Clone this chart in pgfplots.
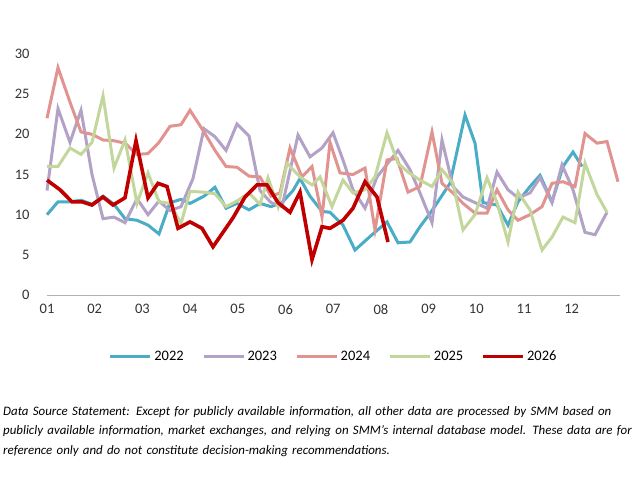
\documentclass[border=0pt]{standalone}
\usepackage{pgfplots}
\pgfplotsset{compat=1.18}
\usepackage{fontspec}
\setmainfont{Carlito}
\definecolor{cA}{HTML}{4BACC6}
\definecolor{cB}{HTML}{B3A2C7}
\definecolor{cC}{HTML}{E0938F}
\definecolor{cD}{HTML}{C3D69B}
\definecolor{cE}{HTML}{C00000}
\begin{document}
\begin{tikzpicture}
\path (-47pt,-181pt) rectangle (592pt,295pt);
\begin{axis}[at={(0,0)},anchor=south west,scale only axis,width=573pt,height=241pt,
 xmin=47,xmax=620,ymin=0,ymax=30,
 xtick={47,94.7,142.4,190.1,237.8,285.5,333.2,380.9,428.6,476.3,524,571.7},
 xticklabels={01,02,03,04,05,06,07,08,09,10,11,12},
 ytick=\empty,
 axis y line=none, axis x line*=bottom, x axis line style={gray!60,-},
 tick style={draw=none},
 xticklabel style={font=\fontsize{14.5}{16}\selectfont,text=black!80,yshift=-6pt},
 /pgf/number format/assume math mode=true,
 clip=false,
 legend style={draw=none,at={(0.5,-0.255)},anchor=center,font=\fontsize{14.5}{16}\selectfont,/tikz/every even column/.append style={column sep=16pt}},
 legend columns=5, legend image post style={line width=3.8pt},
 legend image code/.code={\draw[#1] (0pt,0pt) -- (40pt,0pt);},
]
\pgfplotsextra{\foreach \v in {0,5,...,30}{\node[anchor=east,font=\fontsize{14.5}{16}\selectfont,text=black!80] at (axis cs:47,\v) [xshift=-14pt] {\v};}}
\addplot[cA,line width=3pt] coordinates {(47,10)(58,11.6)(70,11.6)(81,11.8)(92,11.3)(103,12.3)(114,11.3)(125,9.5)(137,9.3)(148,8.7)(159,7.6)(170,11.5)(181,11.9)(190,11.4)(204,12.3)(215,13.4)(226,10.8)(237,11.4)(249,10.6)(260,11.4)(271,11)(282,11.5)(293,13)(300,14.5)(310,12.3)(322,10.4)(330,10.3)(343,8.7)(355,5.6)(372,7.5)(387,9.1)(398,6.5)(410,6.6)(420,8.5)(432,10.5)(450,13.9)(465,22.4)(475,18.9)(483,11.5)(497,11.2)(508,8.7)(518,11.6)(530,13.5)(540,14.9)(552,11.6)(563,16)(573,17.8)(582,16)};
\addlegendentry{2022}
\addplot[cB,line width=3pt] coordinates {(47,13)(58,23.2)(70,19)(81,23)(92,15)(103,9.5)(114,9.7)(125,9)(137,12)(148,10)(159,11.7)(170,10.5)(181,11)(193,14.5)(204,20.7)(215,19.7)(226,18)(237,21.3)(249,19.8)(260,13)(271,11.5)(282,11)(298,19.9)(310,17.2)(322,18.3)(333,20.2)(343,16.8)(353,13.1)(365,10.8)(377,14.7)(398,18)(410,15.6)(420,12.7)(432,9)(442,19.3)(453,13.5)(463,12.2)(475,11.5)(487,10.8)(497,15.3)(508,13.1)(518,12.1)(530,12.7)(540,14.6)(552,11.5)(562,16.2)(573,13.1)(585,7.8)(595,7.5)(607,10.3)};
\addlegendentry{2023}
\addplot[cC,line width=3pt] coordinates {(47,22)(58,28.3)(70,24)(81,20.3)(92,20)(103,19.3)(114,19.2)(125,18.9)(137,17.5)(148,17.6)(159,19)(170,21)(181,21.2)(190,23)(204,20.3)(215,18)(226,16)(237,15.9)(249,14.8)(260,14.7)(271,12.3)(280,12.7)(290,18.3)(302,14.7)(312,16)(322,9.7)(330,19)(340,15.2)(353,15)(365,15.8)(375,8.1)(387,16.8)(397,17)(408,12.8)(420,13.5)(432,20.3)(442,13.9)(453,12.7)(463,11.4)(475,10.2)(487,10.2)(497,13.1)(508,10.6)(518,9.3)(530,10)(542,11)(552,13.9)(563,14.1)(575,13.5)(585,20.1)(597,18.9)(607,19.1)(618,14.1)};
\addlegendentry{2024}
\addplot[cD,line width=3pt] coordinates {(47,16)(58,16)(70,18.3)(81,17.5)(92,19)(103,24.8)(114,15.8)(125,19.3)(137,11.4)(148,15.2)(159,11.6)(170,11.4)(181,8.9)(190,12.9)(204,12.8)(215,12.6)(226,11)(237,11.7)(249,12.7)(260,11.3)(268,14.6)(278,11)(287,16.4)(300,14.7)(312,13.7)(320,14.7)(332,11)(343,14.3)(353,12.7)(365,13.1)(375,14.7)(387,20.2)(398,16.4)(408,15.3)(420,14.3)(432,13.5)(442,15.6)(453,13.9)(463,8.1)(475,10)(487,14.6)(497,11.5)(508,6.6)(518,12.8)(530,10.6)(542,5.6)(552,7.2)(563,9.7)(575,9)(585,16.4)(597,12.5)(607,10.3)};
\addlegendentry{2025}
\addplot[cE,line width=3.6pt] coordinates {(47,14.3)(60,13.1)(72,11.6)(82,11.6)(92,11.2)(103,12.2)(113,11.2)(125,12.1)(136,19.2)(148,12.1)(158,13.9)(167,13.5)(178,8.3)(190,9.1)(202,8.3)(213,6)(223,7.8)(233,9.6)(245,12.2)(257,13.7)(267,13.7)(278,11.5)(290,10.3)(300,12.8)(312,4.4)(322,8.5)(330,8.3)(343,9.3)(353,10.8)(365,14.1)(377,12.2)(388,6.6)};
\addlegendentry{2026}
\end{axis}
\node[anchor=north west,text width=634pt,align=left,font=\itshape\fontsize{12.9}{19.5}\selectfont,inner sep=0pt] at (-44pt,-111pt) {Data Source Statement: Except for publicly available information, all other data are processed by SMM based on publicly available information, market exchanges, and relying on SMM's internal database model. These data are for reference only and do not constitute decision-making recommendations.};
\end{tikzpicture}
\end{document}
